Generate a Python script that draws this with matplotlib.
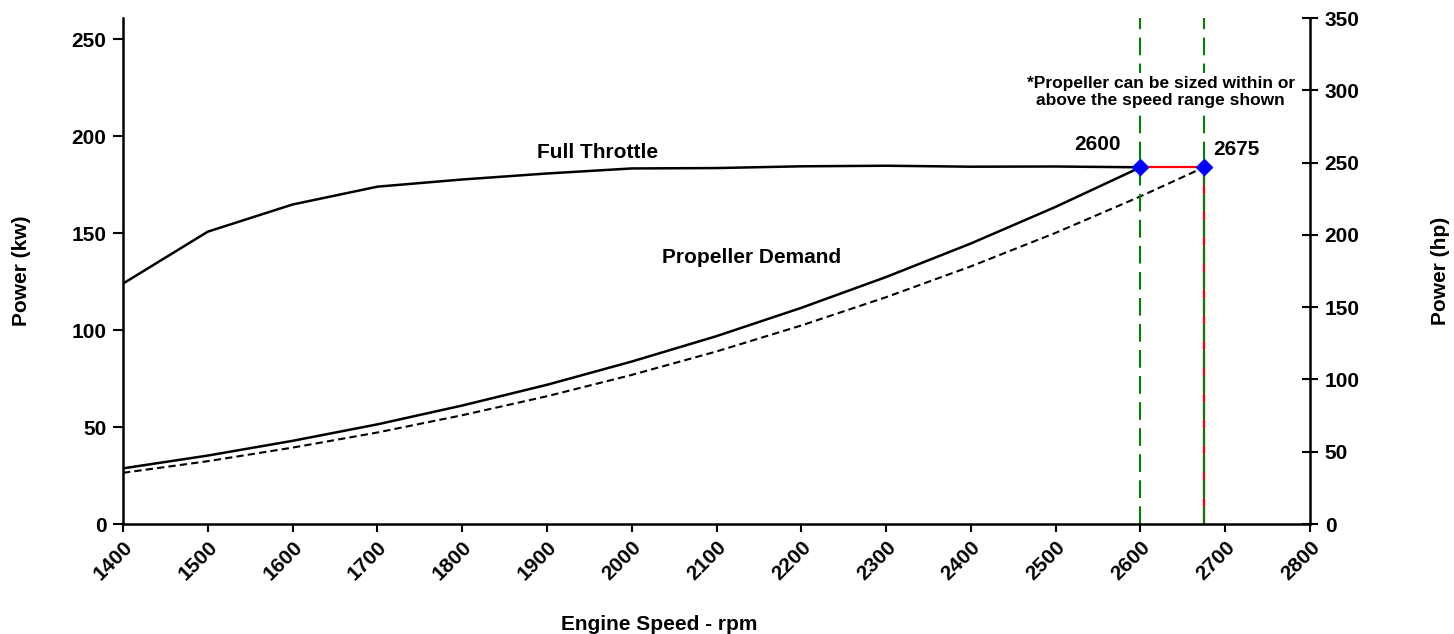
#!/usr/bin/env python3
# Engine power curve vs propeller demand, kW on the left axis, hp on the right.
import matplotlib
matplotlib.use("Agg")
import matplotlib.pyplot as plt  # noqa: E402

plt.rcParams["font.family"] = ["Liberation Sans", "DejaVu Sans"]
plt.rcParams["font.weight"] = "bold"

# Full throttle power curve (kW)
rpm_full = [1400, 1500, 1600, 1700, 1800, 1900, 2000, 2100, 2200, 2300, 2400, 2500, 2600]
kw_full = [124, 150.8, 164.8, 174, 177.7, 180.8, 183.4, 183.6, 184.5, 184.8, 184.3, 184.4, 184]

# Propeller demand, rated at 2600 rpm (solid)
rpm_prop = [1400, 1500, 1600, 1700, 1800, 1900, 2000, 2100, 2200, 2300, 2400, 2500, 2600]
kw_prop = [28.7, 35.3, 42.9, 51.4, 61.1, 71.8, 83.8, 96.9, 111.5, 127.4, 144.7, 163.6, 184]

# Propeller demand, rated at 2675 rpm (dashed)
rpm_prop2 = [1400, 1500, 1600, 1700, 1800, 1900, 2000, 2100, 2200, 2300, 2400, 2500, 2600, 2675]
kw_prop2 = [26.4, 32.4, 39.4, 47.2, 56.1, 65.9, 76.9, 89.0, 102.4, 117.0, 132.9, 150.2, 169.0, 184]

# Rated speed range markers
rated_rpm = [2600, 2675]
rated_kw = [184, 184]
red_rpm = [2600, 2675, 2675]
red_kw = [184, 184, 0]

KW_MAX = 261
HP_PER_KW = 350 / KW_MAX
FS = 15

fig = plt.figure(figsize=(14.54, 6.34), dpi=100)
ax = fig.add_axes([0.0846, 0.1735, 0.9010 - 0.0846, 0.9716 - 0.1735])

ax.plot(rpm_full, kw_full, color="black", lw=1.8)
ax.plot(rpm_prop, kw_prop, color="black", lw=1.8)
ax.plot(rpm_prop2, kw_prop2, color="black", lw=1.5, dashes=(3.5, 2))
ax.plot(red_rpm, red_kw, color="red", lw=1.6)
for r in rated_rpm:
    ax.plot([r, r], [0, KW_MAX], color="green", lw=1.5, dashes=(8.5, 4))
ax.plot(rated_rpm, rated_kw, ls="none", marker="D", ms=8, color="#0000ff", zorder=6)

ax.set_xlim(1400, 2800)
ax.set_ylim(0, KW_MAX)
ax.set_xticks(range(1400, 2801, 100))
ax.set_yticks(range(0, 251, 50))
ax.tick_params(axis="x", direction="out", length=6, width=1.5, labelsize=FS, pad=4)
ax.tick_params(axis="y", direction="out", length=7, width=1.5, labelsize=FS, pad=5)
for lab in ax.get_xticklabels():
    lab.set_rotation(45)
    lab.set_ha("right")
    lab.set_va("top")
    lab.set_rotation_mode("anchor")
for s in ("left", "bottom"):
    ax.spines[s].set_linewidth(1.8)
ax.spines["top"].set_visible(False)
ax.spines["right"].set_visible(False)

ax2 = ax.twinx()
ax2.set_ylim(0, KW_MAX * HP_PER_KW)
ax2.set_yticks(range(0, 351, 50))
ax2.tick_params(axis="y", direction="inout", length=11, width=1.5, labelsize=FS, pad=5)
ax2.spines["right"].set_linewidth(1.8)
for s in ("top", "left", "bottom"):
    ax2.spines[s].set_visible(False)

ax.set_ylabel("Power (kw)", fontsize=FS, fontweight="bold")
ax.yaxis.set_label_coords(-0.0775, 0.5)
ax2.set_ylabel("Power (hp)", fontsize=FS, fontweight="bold")
ax2.yaxis.set_label_coords(1.102, 0.5)
ax.set_xlabel("Engine Speed - rpm", fontsize=FS, fontweight="bold")
ax.xaxis.set_label_coords(0.452, -0.18)

ax.text(1960, 191.6, "Full Throttle", ha="center", va="center", fontsize=FS, fontweight="bold")
ax.text(2141, 137.4, "Propeller Demand", ha="center", va="center", fontsize=FS, fontweight="bold")
ax.text(2549, 196, "2600", ha="center", va="center", fontsize=FS, fontweight="bold")
ax.text(2713, 193, "2675", ha="center", va="center", fontsize=FS, fontweight="bold")
ax.text(2624, 223, "*Propeller can be sized within or\nabove the speed range shown",
        ha="center", va="center", fontsize=12.5, fontweight="bold", linespacing=1.15,
        zorder=7, bbox=dict(facecolor="white", edgecolor="none", pad=2))

fig.savefig("out.png", dpi=100)
